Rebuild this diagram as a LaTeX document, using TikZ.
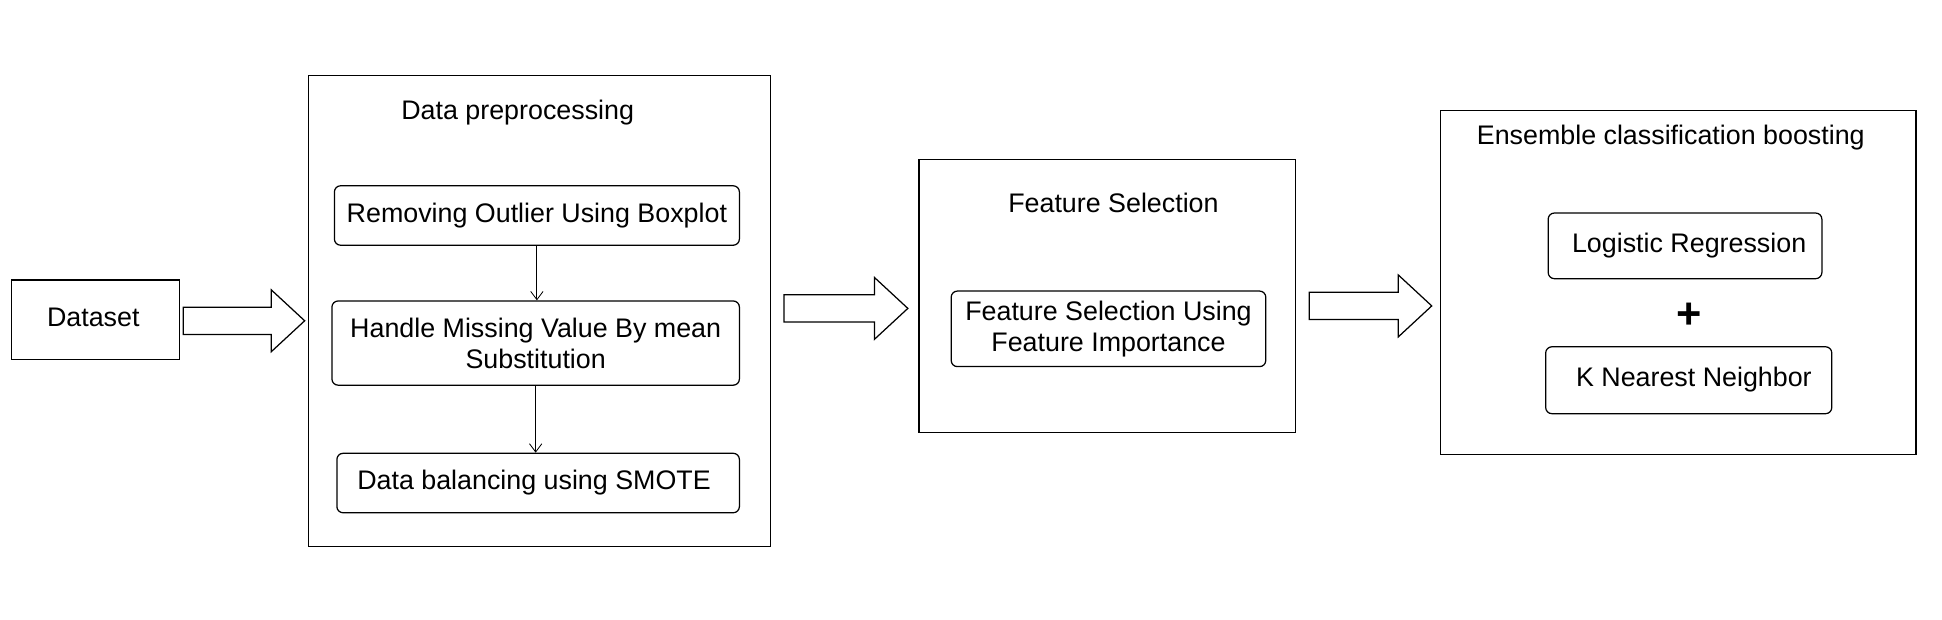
\documentclass[tikz,border=0pt]{standalone}
\usepackage{fontspec}
\setmainfont{Liberation Sans}
\usetikzlibrary{arrows.meta, positioning, calc}

\tikzset{
  stage/.style={draw, line width=0.6pt, inner sep=0pt},
  task/.style={draw, rounded corners=3pt, line width=0.6pt, align=center, inner sep=0pt},
  flow/.style={-{Straight Barb[length=4pt,width=6pt]}, line width=0.4pt},
  blockarrow/.style={draw, line width=0.6pt, fill=white}
}
% hollow block arrow between two named coordinates at the same height
\newcommand{\blockarrow}[2]{%
  \draw[blockarrow] ($(#1)+(0,-11)$) -- ($(#2)+(-27,-11)$) -- ($(#2)+(-27,-25)$)
    -- (#2) -- ($(#2)+(-27,25)$) -- ($(#2)+(-27,11)$) -- ($(#1)+(0,11)$) -- cycle;}

\begin{document}
\begin{tikzpicture}[x=0.6pt, y=-0.6pt, font=\fontsize{13}{15}\selectfont]
  \useasboundingbox (0,0) rectangle (1568,500);

  % input
  \node[stage, minimum width=81.6pt, minimum height=38.4pt] (dataset) at (77,258) {\raisebox{2.5pt}{Dataset\hspace*{2pt}}};

  % preprocessing stage
  \node[stage, minimum width=223.8pt, minimum height=228pt] (prep) at (435.5,251) {};
  \node (preptitle) at (418,91) {Data preprocessing};
  \node[task, minimum width=196.2pt, minimum height=28.8pt] (outlier) at (433.5,174) {Removing Outlier Using Boxplot};
  \node[task, minimum width=197.4pt, minimum height=40.8pt] (missing) at (432.5,277) {Handle Missing Value By mean\\Substitution};
  \node[task, minimum width=195pt, minimum height=28.8pt] (smote) at (434.5,390) {\raisebox{2pt}{Data balancing using SMOTE\hspace*{4pt}}};
  \draw[flow] (outlier.south) -- (outlier.south |- missing.north);
  \draw[flow] (missing.south) -- (missing.south |- smote.north);

  % feature selection stage
  \node[stage, minimum width=182.4pt, minimum height=132pt] (feat) at (894,239) {};
  \node (feattitle) at (899,164) {Feature Selection};
  \node[task, minimum width=152.4pt, minimum height=36.6pt] (importance) at (895,265.5) {Feature Selection Using\\Feature Importance};

  % ensemble stage
  \node[stage, minimum width=230.4pt, minimum height=166.8pt] (ens) at (1355,228) {};
  \node (enstitle) at (1349,111) {Ensemble classification boosting};
  \node[task, minimum width=132.6pt, minimum height=31.8pt] (logreg) at (1360.5,198.5) {\hspace*{4pt}Logistic Regression};
  \node[font=\fontsize{21}{24}\selectfont\bfseries] (plus) at (1364,255) {+};
  \node[task, minimum width=138.6pt, minimum height=32.4pt] (knn) at (1363.5,307) {\raisebox{3pt}{\hspace*{5pt}K Nearest Neighbor}};

  % block arrows between stages
  \coordinate (a1s) at (148,259);  \coordinate (a1t) at (246,259);
  \coordinate (a2s) at (633,249);  \coordinate (a2t) at (733,249);
  \coordinate (a3s) at (1057,247); \coordinate (a3t) at (1156,247);
  \blockarrow{a1s}{a1t}
  \blockarrow{a2s}{a2t}
  \blockarrow{a3s}{a3t}
\end{tikzpicture}
\end{document}
